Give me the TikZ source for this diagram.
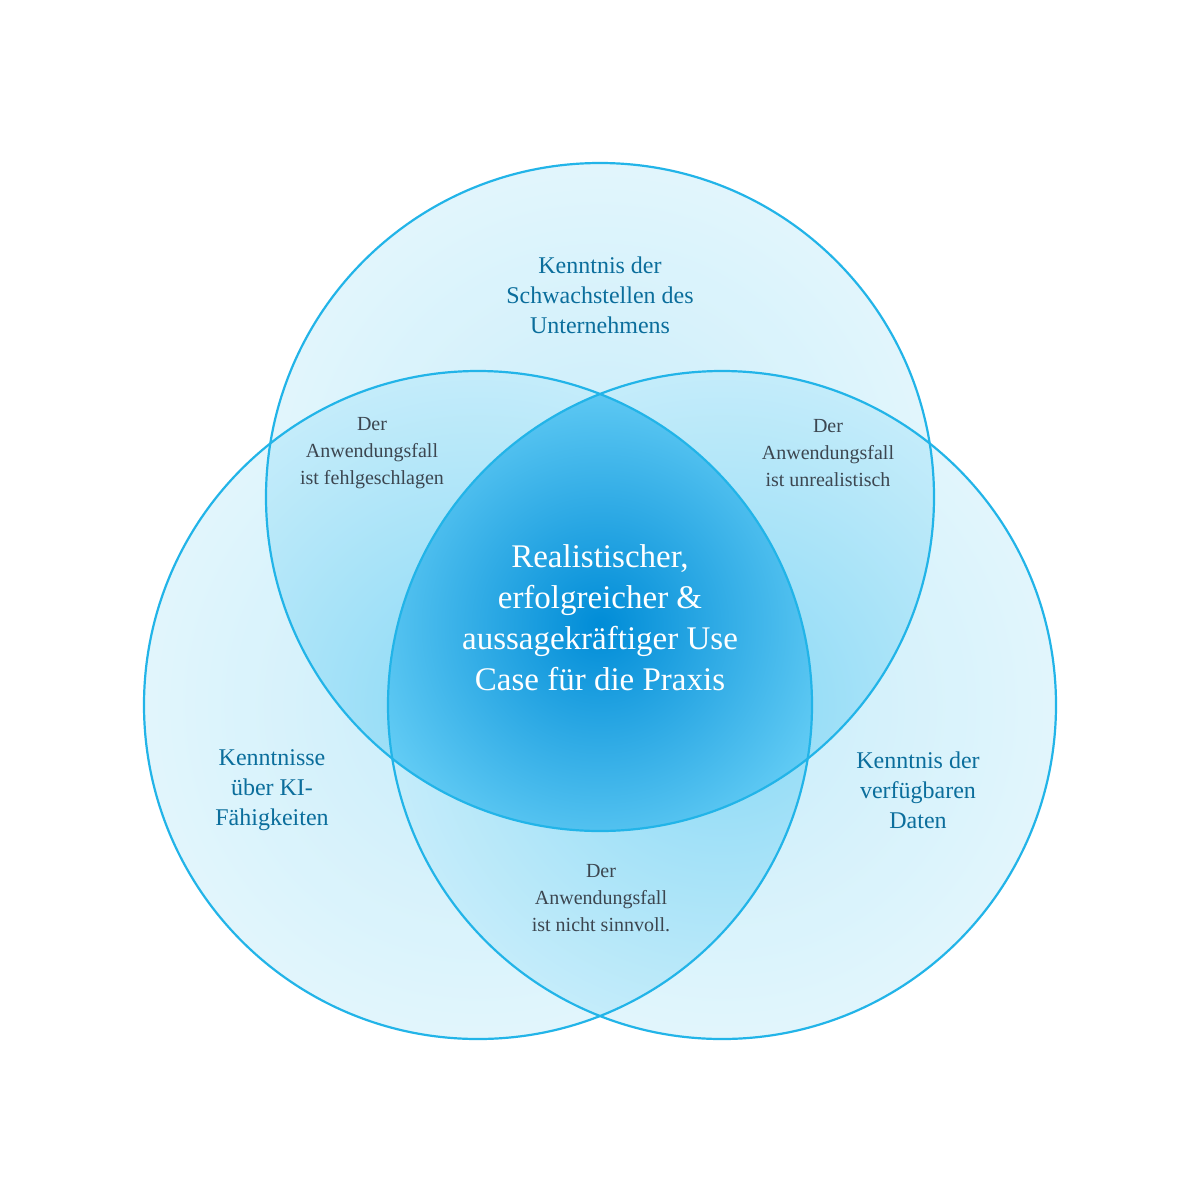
\documentclass[tikz,border=0pt]{standalone}
\usepackage{fontspec}
\setmainfont{Liberation Serif}
\begin{document}
\begin{tikzpicture}[x=1pt,y=-1pt,
  ring/.style={draw=ringc,line width=2.2pt},
  head/.style={align=center,text=headc,font=\fontsize{24}{30}\selectfont},
  small/.style={align=center,text=smallc,font=\fontsize{20}{27}\selectfont}]
\definecolor{ringc}{HTML}{22B4E8}
\definecolor{headc}{HTML}{0B6E9C}
\definecolor{smallc}{HTML}{3C4650}
\definecolor{lightc}{HTML}{C4ECFA}
\definecolor{midc}{HTML}{8AD9F6}
\useasboundingbox (0,0) rectangle (1200,1200);
\fill[white] (0,0) rectangle (1200,1200);
\coordinate (T) at (600,497);
\coordinate (L) at (478,705);
\coordinate (R) at (722,705);
\foreach \c in {T,L,R}{
  \shade[inner color=lightc,outer color=lightc!55,fill opacity=0.9] (\c) circle (334);
}
\begin{scope}\clip (T) circle (334); \shade[inner color=midc,outer color=lightc] (L) circle (334);\end{scope}
\begin{scope}\clip (T) circle (334); \shade[inner color=midc,outer color=lightc] (R) circle (334);\end{scope}
\begin{scope}\clip (L) circle (334); \shade[inner color=midc,outer color=lightc] (R) circle (334);\end{scope}
\begin{scope}\clip (T) circle (334); \clip (L) circle (334); \clip (R) circle (334);
  \shade[inner color={rgb,255:red,0;green,140;blue,215},outer color={rgb,255:red,100;green,205;blue,245}] (600,625) circle (250);
\end{scope}
\draw[ring] (T) circle (334);
\draw[ring] (L) circle (334);
\draw[ring] (R) circle (334);
\node[head] (top) at (600,295) {Kenntnis der\\Schwachstellen des\\Unternehmens};
\node[head] (left) at (272,790) {Kenntnisse\\über KI-\\Fähigkeiten};
\node[head] (right) at (918,790) {Kenntnis der\\verfügbaren\\Daten};
\node[small] (tl) at (372,453) {Der\\Anwendungsfall\\ist fehlgeschlagen};
\node[small] (tr) at (828,453) {Der\\Anwendungsfall\\ist unrealistisch};
\node[small] (bt) at (601,898) {Der\\Anwendungsfall\\ist nicht sinnvoll.};
\node[align=center,text=white,font=\fontsize{33}{41}\selectfont] (c) at (600,618) {Realistischer,\\erfolgreicher \&\\aussagekräftiger Use\\Case für die Praxis};
\end{tikzpicture}
\end{document}
